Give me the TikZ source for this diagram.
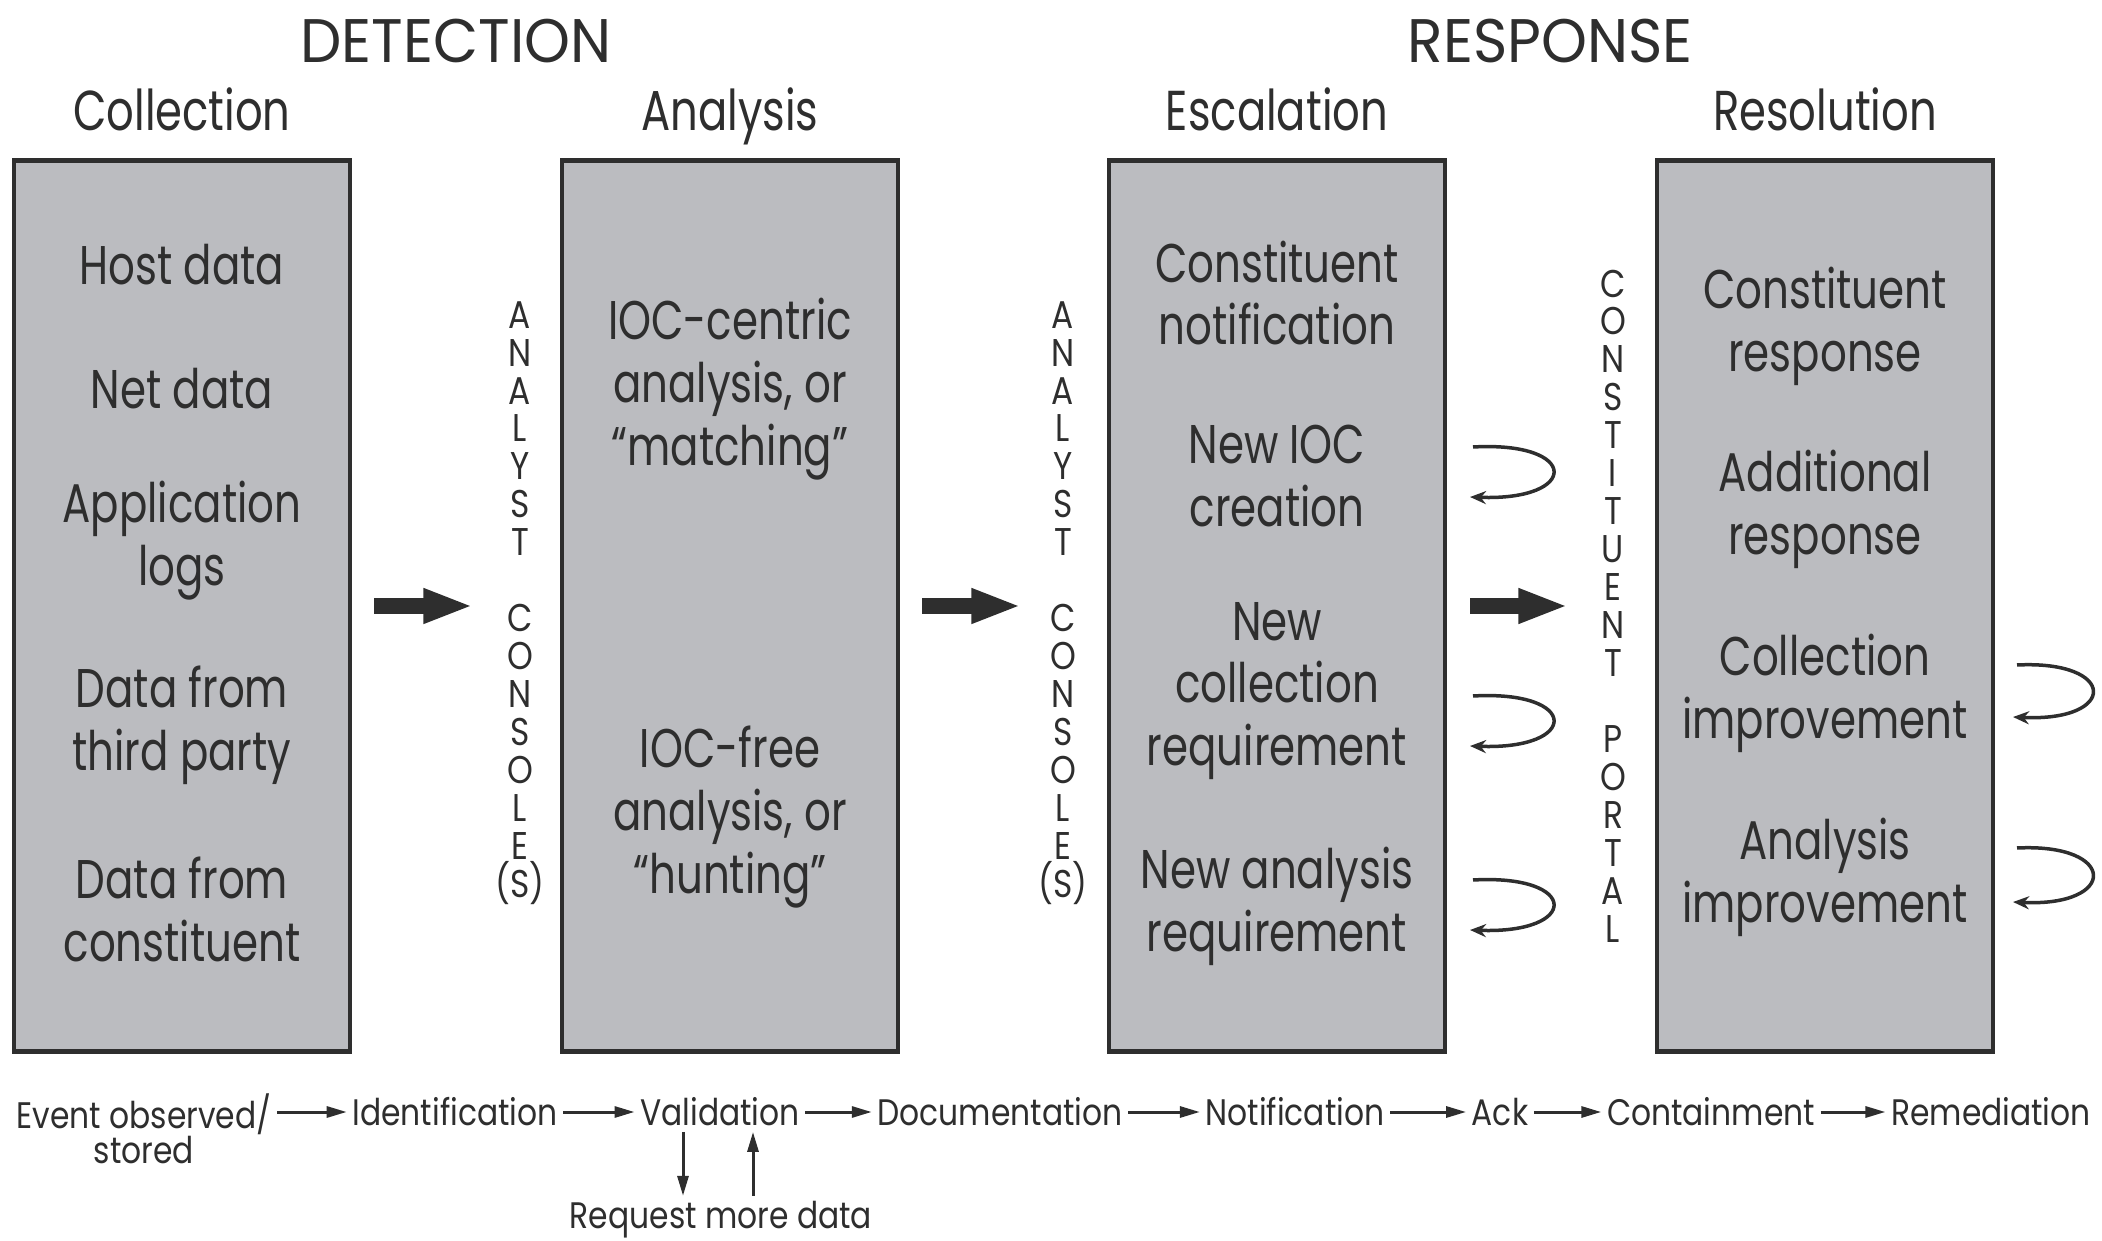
\documentclass[tikz,border=0pt]{standalone}
\usepackage{fontspec}
\setmainfont{Poppins}[FakeStretch=0.85]
\newfontfamily\itemfont{Poppins}[FakeStretch=0.77]
\newfontfamily\phasefont{Poppins}[FakeStretch=0.95]
\usetikzlibrary{arrows.meta,calc,positioning}
\definecolor{boxgray}{HTML}{BBBCC0}
\definecolor{ink}{HTML}{2E2E2E}

\begin{document}
\begin{tikzpicture}[x=0.1mm, y=-0.1mm, color=ink,
        box/.style={draw=ink, line width=0.45mm, fill=boxgray, minimum width=33.6mm, minimum height=89.1mm},
        item/.style={align=center, font=\itemfont\fontsize{15.5}{17.9}\selectfont},
        colhead/.style={inner sep=0pt, text depth=0pt, font=\itemfont\fontsize{16}{18}\selectfont},
        phase/.style={font=\phasefont\fontsize{17.5}{20}\selectfont},
        vtext/.style={align=center, inner sep=0pt, font=\fontsize{11}{10.8}\selectfont},
        stage/.style={inner sep=0.5mm, align=center, font=\fontsize{10.5}{10}\selectfont},
        bigarrow/.style={-{Triangle[length=5mm,width=3.2mm]}, line width=1.6mm},
        flow/.style={-{Triangle[length=2mm,width=1.1mm]}, line width=0.3mm},
        turnback/.style={-{Stealth[length=1.6mm,width=1.3mm]}, line width=0.35mm}]
            \useasboundingbox (0,0) rectangle (2102,1241);

            \node [box] (collbox) at (182,606) {};
            \node [box] (anabox) at (730,606) {};
            \node [box] (escbox) at (1277,606) {};
            \node [box] (resbox) at (1825,606) {};

            \node [colhead, above=2.7mm of collbox] (coll) {Collection};
            \node [colhead, above=2.7mm of anabox] (ana) {Analysis};
            \node [colhead, above=2.7mm of escbox] (esc) {Escalation};
            \node [colhead, above=2.7mm of resbox] (res) {Resolution};
            \node [phase] (det) at (456,41) {DETECTION};
            \node [phase] (resp) at (1550,41) {RESPONSE};

            \node [item] (host) at (182,265) {Host data};
            \node [item] (net) at (182,389) {Net data};
            \node [item] (applogs) at (182,541) {Application\\logs};
            \node [item] (third) at (182,725) {Data from\\third party};
            \node [item] (fromcon) at (182,909) {Data from\\constituent};

            \node [item] (matching) at (730,389) {IOC-centric\\analysis, or\\“matching”};
            \node [item] (hunting) at (730,817) {IOC-free\\analysis, or\\“hunting”};

            \node [item] (connote) at (1277,293) {Constituent\\notification};
            \node [item] (newioc) at (1277,476) {New IOC\\creation};
            \node [item] (newcoll) at (1277,691) {New\\collection\\requirement};
            \node [item] (newana) at (1277,906) {New analysis\\requirement};

            \node [item] (conresp) at (1825,326) {Constituent\\response};
            \node [item] (addresp) at (1825,509) {Additional\\response};
            \node [item] (collimp) at (1825,693) {Collection\\improvement};
            \node [item] (anaimp) at (1825,877) {Analysis\\improvement};

            \node [vtext] (console1) at (520,603) {A\\N\\A\\L\\Y\\S\\T\\[10.8pt]C\\O\\N\\S\\O\\L\\E\\(S)};
            \node [vtext] (console2) at (1063,603) {A\\N\\A\\L\\Y\\S\\T\\[10.8pt]C\\O\\N\\S\\O\\L\\E\\(S)};
            \node [vtext] (portal) at (1613,606) {C\\O\\N\\S\\T\\I\\T\\U\\E\\N\\T\\[10.8pt]P\\O\\R\\T\\A\\L};

            \draw [bigarrow] ([xshift=2.2mm]collbox.east) -- ([xshift=12.1mm]collbox.east);
            \draw [bigarrow] ([xshift=2.2mm]anabox.east) -- ([xshift=12.1mm]anabox.east);
            \draw [bigarrow] ([xshift=2.3mm]escbox.east) -- ([xshift=12.1mm]escbox.east);

            \draw [turnback] (1473,447) .. controls (1580,441) and (1580,501) .. (1470,497);
            \draw [turnback] (1473,696) .. controls (1580,690) and (1580,750) .. (1470,746);
            \draw [turnback] (1473,880) .. controls (1580,874) and (1580,934) .. (1470,930);
            \draw [turnback] (2017,665) .. controls (2118,660) and (2118,722) .. (2013,717);
            \draw [turnback] (2017,848) .. controls (2118,843) and (2118,907) .. (2013,902);

            \node [stage] (event) at (144,1129) {Event observed/\\stored};
            \node [stage] (ident) at (455,1112) {Identification};
            \node [stage] (valid) at (720,1112) {Validation};
            \node [stage] (docu) at (1000,1112) {Documentation};
            \node [stage] (notif) at (1295,1112) {Notification};
            \node [stage] (ack) at (1500,1112) {Ack};
            \node [stage] (contain) at (1711,1112) {Containment};
            \node [stage] (remed) at (1991,1112) {Remediation};
            \node [stage] (req) at (721,1220) {Request more data};

            \draw [flow] (event.east |- ident) -- (ident);
            \draw [flow] (ident) -- (valid);
            \draw [flow] (valid) -- (docu);
            \draw [flow] (docu) -- (notif);
            \draw [flow] (notif) -- (ack);
            \draw [flow] (ack) -- (contain);
            \draw [flow] (contain) -- (remed);
            \draw [flow] ([xshift=-3.7mm]valid.south) -- ([xshift=-3.7mm]valid.south |- req.north);
            \draw [flow] ([xshift=3.3mm]valid.south |- req.north) -- ([xshift=3.3mm]valid.south);
\end{tikzpicture}
\end{document}
